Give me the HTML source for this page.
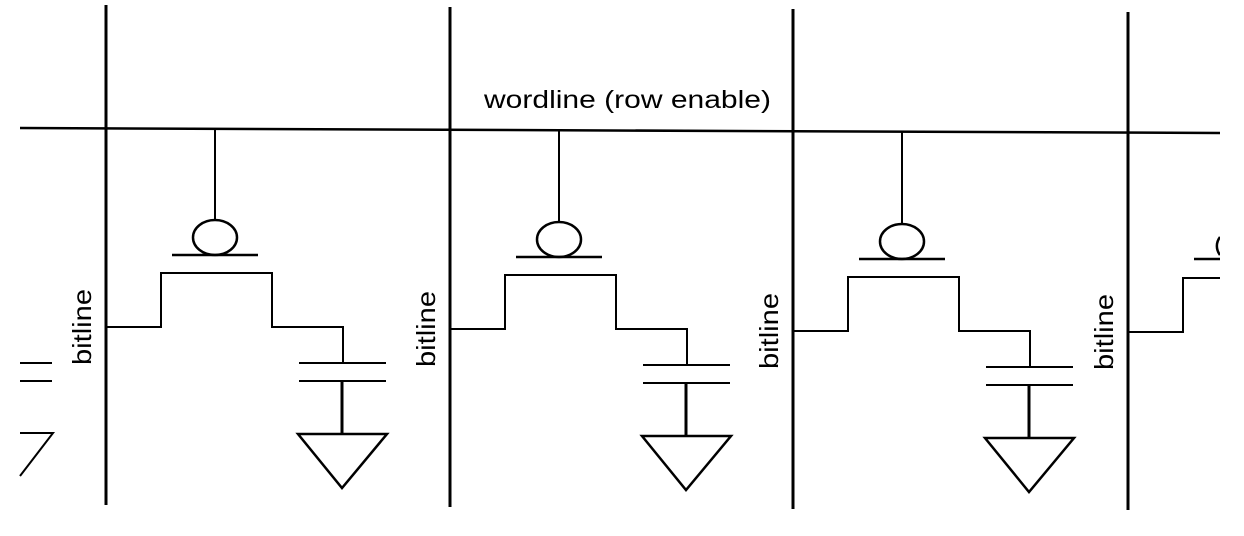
<!DOCTYPE html>
<html><head><meta charset="utf-8"><style>html,body{margin:0;padding:0;background:#fff;}svg{display:block}</style></head>
<body>
<svg width="1244" height="536" viewBox="0 0 1244 536" xmlns="http://www.w3.org/2000/svg" font-family="Liberation Sans, sans-serif">
<rect width="1244" height="536" fill="#fff"/>
<line x1="20" y1="128" x2="1220" y2="133" stroke="#000" stroke-width="2.5"/>
<text x="484" y="108" font-size="25" textLength="287" lengthAdjust="spacingAndGlyphs">wordline (row enable)</text>
<g stroke="#000" stroke-width="2" fill="none">
<line x1="20" y1="363" x2="52" y2="363"/>
<line x1="20" y1="381" x2="52" y2="381"/>
<polyline points="20,433 53,433 20,476"/>
</g>
<defs>
<g id="cell">
<g stroke="#000" fill="none">
<line x1="106" y1="5" x2="106" y2="505" stroke-width="3"/>
<line x1="215" y1="128" x2="215" y2="220" stroke-width="2"/>
<ellipse cx="215" cy="237.5" rx="22" ry="17.5" stroke-width="2.5"/>
<line x1="172" y1="255" x2="258" y2="255" stroke-width="2.5"/>
<polyline points="106,327 161,327 161,273 272,273 272,327 343,327 343,363" stroke-width="2"/>
<line x1="299" y1="363" x2="386" y2="363" stroke-width="2"/>
<line x1="299" y1="381" x2="386" y2="381" stroke-width="2"/>
<line x1="342" y1="381" x2="342" y2="434" stroke-width="3"/>
<polygon points="298,434 387,434 342,488" stroke-width="2.5"/>
</g>
<text transform="translate(91,327) rotate(-90)" font-size="26" text-anchor="middle" textLength="76" lengthAdjust="spacingAndGlyphs">bitline</text>
</g>
</defs>
<use href="#cell"/>
<use href="#cell" transform="translate(344,2)"/>
<use href="#cell" transform="translate(687,4)"/>
<g transform="translate(1022,5)">
<g stroke="#000" fill="none">
<line x1="106" y1="7" x2="106" y2="505" stroke-width="3"/>
<polyline points="106,327 161,327 161,273 200,273" stroke-width="2"/>
<line x1="172" y1="254" x2="200" y2="254" stroke-width="2.5"/>
<path d="M198,232 A22,17.5 0 0 0 198,250" stroke-width="2.5"/>
</g>
<text transform="translate(91,327) rotate(-90)" font-size="26" text-anchor="middle" textLength="76" lengthAdjust="spacingAndGlyphs">bitline</text>
</g>
<rect x="1220" y="0" width="24" height="536" fill="#fff"/>
</svg>
</body></html>
